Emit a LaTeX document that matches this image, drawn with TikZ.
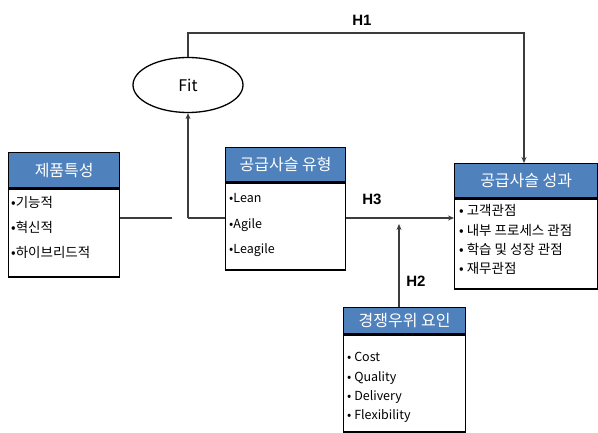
\documentclass[tikz,border=0pt]{standalone}
\usepackage{fontspec}
\setmainfont{Noto Sans CJK KR}
\newfontfamily\hfont{Liberation Sans}
\usetikzlibrary{arrows.meta,shapes.geometric}
\definecolor{hdblue}{RGB}{79,129,189}
\definecolor{lngray}{RGB}{60,60,60}
\begin{document}
\begin{tikzpicture}[x=1pt,y=-1pt]
		\tikzstyle{hdr}=[draw=black,
			line width=1.4pt,
			fill=hdblue,
			text=white,
			anchor=north west,
			inner sep=0pt,
			font=\fontsize{16}{18}\selectfont,
			];
		\tikzstyle{frm}=[draw=black,
			line width=1.4pt,
			fill=white,
			anchor=north west,
			inner sep=0pt,
			];
		\tikzstyle{items}=[anchor=north west,
			align=left,
			inner sep=0pt,
			];
		\tikzstyle{conn}=[draw=lngray,line width=1.2pt];
		\tikzstyle{hyp}=[font=\hfont\fontsize{15}{17}\selectfont\bfseries];

		\useasboundingbox[fill=white] (0,0) rectangle (598,433);

		\node [hdr] (ph) at (8,152) [minimum width=111pt,minimum height=35pt] {제품특성};
		\node [frm] (pb) at (ph.south west) [minimum width=111pt,minimum height=88pt] {};
		\node [items] (pl) at ([xshift=3pt,yshift=-8pt]pb.north west) [font=\fontsize{13.5}{25}\selectfont] {•기능적\\•혁신적\\•하이브리드적};

		\node [hdr] (th) at (225,147) [minimum width=120pt,minimum height=34pt] {공급사슬 유형};
		\node [frm] (tb) at (th.south west) [minimum width=120pt,minimum height=87pt] {};
		\node [items] (tl) at ([xshift=4pt,yshift=-11pt]tb.north west) [font=\fontsize{12.5}{25.5}\selectfont] {•Lean\\•Agile\\•Leagile};

		\node [hdr] (sh) at (454,163) [minimum width=143pt,minimum height=34pt] {공급사슬 성과};
		\node [frm] (sb) at (sh.south west) [minimum width=143pt,minimum height=90pt] {};
		\node [items] (sl) at ([xshift=5pt,yshift=-6pt]sb.north west) [font=\fontsize{13.5}{19.3}\selectfont] {• 고객관점\\• 내부 프로세스 관점\\• 학습 및 성장 관점\\• 재무관점};

		\node [hdr] (ch) at (343,307) [minimum width=122pt,minimum height=26pt] {경쟁우위 요인};
		\node [frm] (cb) at (ch.south west) [minimum width=122pt,minimum height=97pt] {};
		\node [items] (cl) at ([xshift=4pt,yshift=-18pt]cb.north west) [font=\fontsize{12.5}{19.3}\selectfont] {• Cost\\• Quality\\• Delivery\\• Flexibility};

		\node [ellipse,draw=black,line width=1.3pt,minimum width=110pt,minimum height=55pt,font=\fontsize{16}{18}\selectfont] (fit) at (188,85) {Fit};

		\coordinate (gapl) at (172,218);
		\coordinate (jn) at (188,218);
		\coordinate (h1c) at (524,33);
		\coordinate (h3c) at (345,218);
		\coordinate (h2c) at (399,224);

		\draw [conn] (pb.east |- gapl) -- (gapl);
		\draw [conn] (tb.west |- jn) -- (jn);
		\draw [conn,-{Stealth[length=6pt,width=5pt]}] (jn) -- (fit.south);
		\draw [conn,-{Stealth[length=6pt,width=5pt]}] (fit.north) -- (fit.north |- h1c) -- (h1c) -- (sh.north -| h1c);
		\draw [conn,-{Stealth[length=6pt,width=5pt]}] (tb.east |- h3c) -- (sb.west |- h3c);
		\draw [conn,-{Stealth[length=6pt,width=5pt]}] (ch.north -| h2c) -- (h2c);

		\node [hyp] (hA) at (362,20) {H1};
		\node [hyp] (hC) at (372,199) {H3};
		\node [hyp] (hB) at (416,281) {H2};
	\end{tikzpicture}
\end{document}
